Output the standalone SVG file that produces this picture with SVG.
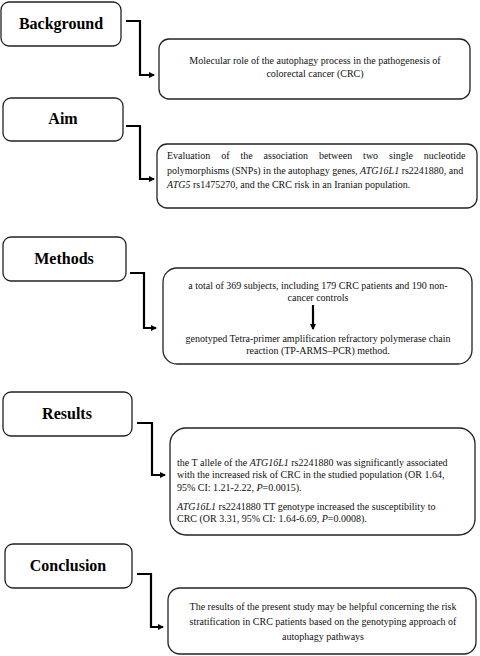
<svg xmlns="http://www.w3.org/2000/svg" width="480" height="656" viewBox="0 0 480 656">
<defs>
<marker id="ah" markerWidth="6" markerHeight="6" refX="5" refY="3" orient="auto" markerUnits="userSpaceOnUse"><path d="M0,0 L6,3 L0,6 Z" fill="#000"/></marker>
<style>
.hbox{fill:#fff;stroke:#222;stroke-width:1.3}
.cbox{fill:#fff;stroke:#222;stroke-width:1.3}
.h{font-weight:bold;font-size:16px;fill:#000;text-anchor:middle}
.t{font-size:10px;fill:#111}
.c{text-anchor:middle}
.i{font-style:italic}
.conn{fill:none;stroke:#000;stroke-width:2.2;marker-end:url(#ah)}
</style>
</defs>
<rect width="480" height="656" fill="#fff"/>
<g font-family="Liberation Serif, Times New Roman, serif">
<g id="background">
<rect class="hbox" x="1" y="2" width="120" height="44" rx="8"/>
<text class="h" x="61" y="29">Background</text>
</g>
<g id="background-text">
<rect class="cbox" x="159" y="39" width="311" height="60" rx="10"/>
<text class="t c" x="315" y="64">Molecular role of the autophagy process in the pathogenesis of</text>
<text class="t c" x="315" y="77">colorectal cancer (CRC)</text>
</g>
<g id="aim">
<rect class="hbox" x="3" y="98" width="120" height="43" rx="8"/>
<text class="h" x="63" y="124">Aim</text>
</g>
<g id="aim-text">
<rect class="cbox" x="157" y="144" width="320" height="64" rx="10"/>
<text class="t" x="167" y="159" word-spacing="8.4">Evaluation of the association between two single nucleotide</text>
<text class="t" x="167" y="173.5">polymorphisms (SNPs) in the autophagy genes, <tspan class="i">ATG16L1</tspan> rs2241880, and</text>
<text class="t" x="167" y="188"><tspan class="i">ATG5</tspan> rs1475270, and the CRC risk in an Iranian population.</text>
</g>
<g id="methods">
<rect class="hbox" x="3" y="237" width="123" height="44" rx="8"/>
<text class="h" x="64" y="264">Methods</text>
</g>
<g id="methods-text">
<rect class="cbox" x="163" y="268" width="309" height="96" rx="14"/>
<text class="t c" x="318" y="289">a total of 369 subjects, including 179 CRC patients and 190 non-</text>
<text class="t c" x="318" y="301">cancer controls</text>
<text class="t c" x="318" y="342">genotyped Tetra-primer amplification refractory polymerase chain</text>
<text class="t c" x="318" y="354">reaction (TP-ARMS–PCR) method.</text>
</g>
<g id="results">
<rect class="hbox" x="3" y="392" width="129" height="44" rx="8"/>
<text class="h" x="67" y="419">Results</text>
</g>
<g id="results-text">
<rect class="cbox" x="170" y="428" width="305" height="107" rx="16"/>
<text class="t" x="177" y="466">the T allele of the <tspan class="i">ATG16L1</tspan> rs2241880 was significantly associated</text>
<text class="t" x="177" y="478">with the increased risk of CRC in the studied population (OR 1.64,</text>
<text class="t" x="177" y="491">95% CI: 1.21-2.22, <tspan class="i">P</tspan>=0.0015).</text>
<text class="t" x="177" y="510"><tspan class="i">ATG16L1</tspan> rs2241880 TT genotype increased the susceptibility to</text>
<text class="t" x="177" y="522">CRC (OR 3.31, 95% CI<tspan class="i">:</tspan> 1.64-6.69, <tspan class="i">P</tspan>=0.0008).</text>
</g>
<g id="conclusion">
<rect class="hbox" x="5" y="544" width="127" height="44" rx="8"/>
<text class="h" x="68" y="571">Conclusion</text>
</g>
<g id="conclusion-text">
<rect class="cbox" x="168" y="588" width="308" height="66" rx="12"/>
<text class="t c" x="323" y="610">The results of the present study may be helpful concerning the risk</text>
<text class="t c" x="323" y="625">stratification in CRC patients based on the genotyping approach of</text>
<text class="t c" x="323" y="640">autophagy pathways</text>
</g>
</g>
<g id="connectors">
<path class="conn" d="M126,21 H140 V75 H154"/>
<path class="conn" d="M126,126 H140 V179 H154"/>
<path class="conn" d="M130,273 H144 V328 H156"/>
<path class="conn" d="M137,423 H152 V475 H165"/>
<path class="conn" d="M137,574 H151 V627 H163"/>
<path class="conn" d="M313,305 V329"/>
</g>
</svg>
